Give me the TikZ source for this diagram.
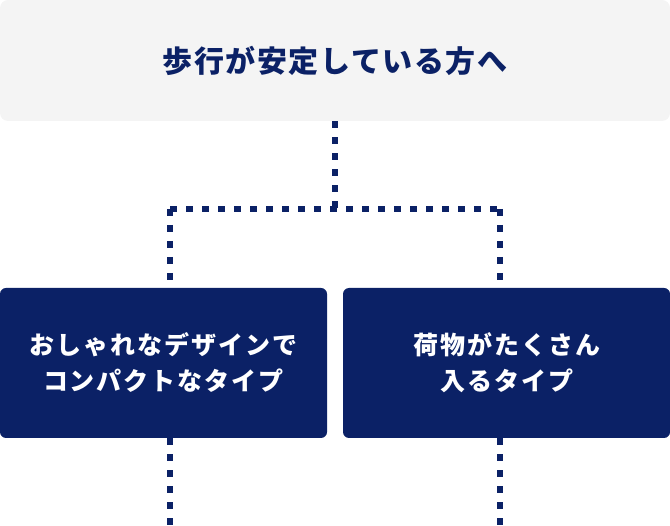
\documentclass[tikz,border=0pt]{standalone}
\usepackage{fontspec}
\newfontfamily\jpfont{Noto Sans CJK JP}
\definecolor{navy}{RGB}{11,33,102}
\definecolor{paleback}{RGB}{244,244,244}

\begin{document}
\begin{tikzpicture}[x=1pt, y=-1pt,
    headbox/.style={fill=paleback, rounded corners=8pt, minimum width=670pt, minimum height=121pt, inner sep=0pt,
        text=navy, font=\jpfont\bfseries\addfontfeature{LetterSpace=5}\fontsize{30}{34}\selectfont},
    typebox/.style={fill=navy, rounded corners=6pt, minimum width=327pt, minimum height=150pt, inner sep=0pt,
        text=white, align=center, font=\jpfont\bfseries\addfontfeature{LetterSpace=8}\fontsize{25}{36}\selectfont},
    dotline/.style={navy, line width=6pt, dash pattern=on 7pt off 9pt}]
    \useasboundingbox (0, 0) rectangle (670, 526);

    % Boxes
    \node[headbox] (head) at (335, 60.5) {歩行が安定している方へ};
    \node[typebox] (stylish) at (163.5, 363) {おしゃれなデザインで\\コンパクトなタイプ};
    \node[typebox] (roomy) at (506.5, 363) {荷物がたくさん\\入るタイプ};

    % Branch points
    \coordinate (hub) at (335, 209);
    \coordinate (hubl) at (170, 209);
    \coordinate (hubr) at (500, 209);
    \coordinate (endl) at (170, 526);
    \coordinate (endr) at (500, 526);

    % Dotted connectors
    \draw[dotline] (head.south) -- (hub);
    \draw[dotline] (hubl) -- (hubr);
    \draw[dotline] (hubl) -- (hubl |- stylish.north);
    \draw[dotline] (hubr) -- (hubr |- roomy.north);
    \draw[dotline] (hubl |- stylish.south) -- (endl);
    \draw[dotline] (hubr |- roomy.south) -- (endr);
\end{tikzpicture}
\end{document}
